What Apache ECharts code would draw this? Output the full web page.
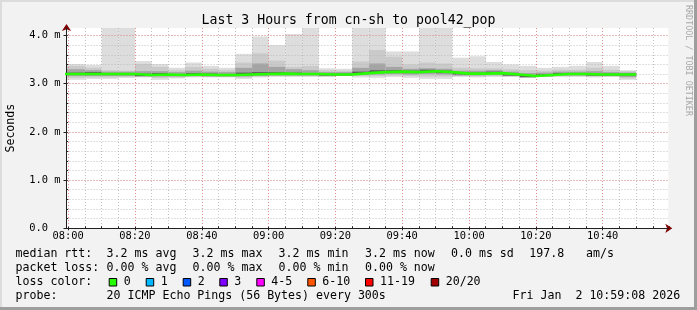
<!DOCTYPE html>
<html><head><meta charset="utf-8">
<script src="https://cdn.jsdelivr.net/npm/echarts@6/dist/echarts.min.js"></script>
<style>html,body{margin:0;padding:0;background:#f2f2f2;}#c{width:697px;height:310px;}</style>
</head><body><div id="c"></div>
<script>
// ---- data (5-minute buckets, start times) ----
const times = ['07:55','08:00','08:05','08:10','08:15','08:20','08:25','08:30','08:35','08:40','08:45','08:50',
  '08:55','09:00','09:05','09:10','09:15','09:20','09:25','09:30','09:35','09:40','09:45','09:50','09:55',
  '10:00','10:05','10:10','10:15','10:20','10:25','10:30','10:35','10:40','10:45'];
// ms values
const maxRtt = [3.41,3.41,3.39,4.30,4.30,3.47,3.41,3.33,3.44,3.37,3.33,3.62,3.98,3.80,4.03,4.30,3.32,3.31,
  4.30,4.30,3.67,3.67,4.30,4.30,3.54,3.57,3.45,3.40,3.37,3.33,3.35,3.37,3.45,3.37,3.28];
const hi2 = [3.37,3.37,3.33,3.28,3.27,3.41,3.35,3.28,3.35,3.31,3.28,3.44,3.63,3.48,3.35,3.37,3.28,3.27,
  3.46,3.70,3.56,3.40,3.44,3.42,3.33,3.32,3.32,3.30,3.28,3.27,3.29,3.29,3.33,3.29,3.26];
const hi3 = [3.30,3.30,3.28,3.25,3.25,3.26,3.26,3.24,3.27,3.25,3.24,3.33,3.42,3.35,3.30,3.28,3.24,3.24,
  3.33,3.42,3.35,3.31,3.32,3.31,3.27,3.27,3.28,3.25,3.22,3.23,3.25,3.25,3.26,3.24,3.23];
const hi4 = [3.23,3.23,3.24,3.22,3.22,3.21,3.22,3.20,3.22,3.21,3.20,3.23,3.24,3.24,3.23,3.22,3.21,3.21,
  3.25,3.28,3.28,3.27,3.29,3.27,3.23,3.23,3.25,3.21,3.18,3.20,3.22,3.22,3.21,3.21,3.21];
const medianRtt = [3.20,3.20,3.20,3.20,3.20,3.18,3.19,3.18,3.19,3.18,3.18,3.19,3.20,3.21,3.20,3.20,3.19,3.19,
  3.22,3.24,3.25,3.24,3.26,3.24,3.21,3.21,3.22,3.19,3.16,3.18,3.20,3.20,3.19,3.19,3.19];
const lo4 = [3.18,3.18,3.18,3.18,3.18,3.16,3.17,3.16,3.17,3.16,3.16,3.17,3.18,3.19,3.18,3.18,3.17,3.17,
  3.20,3.22,3.23,3.22,3.24,3.22,3.19,3.19,3.20,3.17,3.14,3.16,3.18,3.18,3.17,3.17,3.17];
const lo3 = [3.16,3.16,3.16,3.16,3.16,3.15,3.15,3.15,3.16,3.15,3.15,3.15,3.16,3.17,3.17,3.17,3.16,3.17,
  3.18,3.19,3.20,3.19,3.20,3.19,3.17,3.17,3.18,3.16,3.13,3.15,3.17,3.17,3.16,3.16,3.14];
const lo2 = [3.12,3.12,3.13,3.13,3.14,3.14,3.12,3.13,3.14,3.14,3.14,3.13,3.15,3.16,3.16,3.16,3.15,3.16,
  3.16,3.16,3.17,3.16,3.15,3.15,3.16,3.15,3.16,3.15,3.12,3.15,3.16,3.16,3.15,3.15,3.11];
const minRtt = [3.08,3.08,3.10,3.10,3.12,3.13,3.08,3.11,3.13,3.13,3.13,3.10,3.13,3.14,3.14,3.14,3.14,3.16,
  3.13,3.12,3.14,3.12,3.10,3.10,3.14,3.13,3.14,3.14,3.12,3.14,3.14,3.14,3.13,3.14,3.08];
const yTicks = [0, 1, 2, 3, 4];
const xTickLabels = ['08:00','08:20','08:40','09:00','09:20','09:40','10:00','10:20','10:40'];

const titleText = 'Last 3 Hours from cn-sh to pool42_pop';
const rttStats = ['3.2 ms avg','3.2 ms max','3.2 ms min','3.2 ms now','0.0 ms sd','197.8','am/s'];
const lossStats = ['0.00 % avg','0.00 % max','0.00 % min','0.00 % now'];
const lossLabels = ['0','1','2','3','4-5','6-10','11-19','20/20'];
const lossColors = ['#26ff00','#00b8ff','#0059ff','#7e00ff','#ff00ff','#ff5500','#ff0000','#a00000'];
const probeText = '20 ICMP Echo Pings (56 Bytes) every 300s';
const dateText = 'Fri Jan  2 10:59:08 2026';

// ---- build ----
const STEP = 5;
const toMin = s => { const [h, m] = s.split(':').map(Number); return (h - 8) * 60 + m; };
const starts = times.map(toMin);
function band(lo, hi) { return starts.map((t, i) => [t, t + STEP, lo[i], hi[i]]); }
const MONO = '"DejaVu Sans Mono", monospace';
const YMAX = 4.156;
const XMIN = -0.5, XMAX = 179.6;

function smokeSeries(data, color) {
  return {
    type: 'custom', xAxisIndex: 0, yAxisIndex: 0, z: 1, silent: true,
    data: data,
    encode: { x: [0, 1], y: [2, 3] },
    renderItem: function (params, api) {
      const p1 = api.coord([api.value(0), api.value(3)]);
      const p2 = api.coord([api.value(1), api.value(2)]);
      const cs = params.coordSys;
      const r = echarts.graphic.clipRectByRect(
        { x: p1[0], y: p1[1], width: p2[0] - p1[0], height: p2[1] - p1[1] },
        { x: cs.x, y: cs.y, width: cs.width, height: cs.height });
      if (!r) return null;
      return { type: 'rect', shape: r, style: { fill: color } };
    }
  };
}

const medLine = starts.map((t, i) => [t, medianRtt[i]]);
medLine.push([starts[starts.length - 1] + STEP, medianRtt[medianRtt.length - 1]]);

const gridTop = 28, gridH = 200.3;
const minorCol = 'rgba(180,180,180,0.8)';
const majorCol = 'rgba(240,120,120,0.7)';

const graphics = [];
// frame
graphics.push({ type: 'rect', shape: { x: 0, y: 0, width: 697, height: 2 }, style: { fill: '#dcdcdc' }, silent: true });
graphics.push({ type: 'rect', shape: { x: 0, y: 0, width: 2, height: 310 }, style: { fill: '#dcdcdc' }, silent: true });
graphics.push({ type: 'rect', shape: { x: 0, y: 307, width: 697, height: 3 }, style: { fill: '#9e9e9e' }, silent: true });
graphics.push({ type: 'rect', shape: { x: 694, y: 0, width: 3, height: 310 }, style: { fill: '#9e9e9e' }, silent: true });
// watermark
graphics.push({ type: 'text', x: 688.5, y: 5, rotation: -Math.PI / 2,
  style: { text: 'RRDTOOL / TOBI OETIKER', font: '8.4px ' + MONO, fill: '#a8a8a8',
    align: 'left', verticalAlign: 'middle', textAlign: 'left', textVerticalAlign: 'middle' } });

function txt(x, y, s) {
  graphics.push({ type: 'text', x: x, y: y,
    style: { text: s, font: '11.6px ' + MONO, fill: '#000',
      align: 'left', verticalAlign: 'middle', textAlign: 'left', textVerticalAlign: 'middle' } });
}
const rowY = [254.3, 268.3, 282.3, 296.3];
const statX = [106.6, 192.6, 278.6, 365, 451, 529.3, 586];
txt(15.5, rowY[0], 'median rtt:');
rttStats.forEach((s, i) => txt(statX[i], rowY[0], s));
txt(15.5, rowY[1], 'packet loss:');
lossStats.forEach((s, i) => txt(statX[i], rowY[1], s));
txt(15.5, rowY[2], 'loss color:');
const boxX = [108.7, 145.7, 182.7, 219.3, 256.3, 307.3, 365, 430.7];
lossLabels.forEach((s, i) => {
  graphics.push({ type: 'rect', shape: { x: boxX[i] + 0.5, y: 278.5, width: 7.5, height: 7.5 },
    style: { fill: lossColors[i], stroke: '#000', lineWidth: 1 } });
  txt(boxX[i] + 15, rowY[2], s);
});
txt(15.5, rowY[3], 'probe:');
txt(106.6, rowY[3], probeText);
txt(512.6, rowY[3], dateText);

const option = {
  animation: false,
  backgroundColor: '#f2f2f2',
  title: { text: titleText, left: 'center', top: 9,
    textStyle: { fontFamily: MONO, fontSize: 13.2, fontWeight: 'normal', color: '#000' } },
  grid: [
    { left: 66.5, top: gridTop, width: 601.8, height: gridH, show: true, backgroundColor: '#ffffff', borderWidth: 0,
      containLabel: false, outerBoundsMode: 'none' },
    { left: 68.17, top: gridTop, width: 601.3, height: gridH, show: false, containLabel: false, outerBoundsMode: 'none' }
  ],
  xAxis: [
    { type: 'value', gridIndex: 0, min: XMIN, max: XMAX, position: 'bottom', z: 6,
      axisLine: { show: true, onZero: false, lineStyle: { color: '#202020', width: 1 } },
      axisTick: { show: false }, axisLabel: { show: false }, splitLine: { show: false } },
    { type: 'value', gridIndex: 0, min: XMIN, max: XMAX, position: 'bottom', z: 5,
      axisLine: { show: true, onZero: false, symbol: ['none', 'arrow'], symbolSize: [7, 7], symbolOffset: [0, 4],
        lineStyle: { color: '#800000', width: 1 } },
      axisTick: { show: false }, axisLabel: { show: false }, splitLine: { show: false } },
    { type: 'value', gridIndex: 1, min: 0, max: 180, interval: 5, position: 'bottom', z: 3,
      axisLine: { show: false, onZero: false },
      axisTick: { show: true, inside: true, length: 2, lineStyle: { color: '#202020' } },
      axisLabel: { show: false },
      splitLine: { show: true, showMaxLine: false, lineStyle: { color: minorCol, type: [1, 2], width: 1 } } },
    { type: 'value', gridIndex: 1, min: 0, max: 180, interval: 20, position: 'bottom', z: 4,
      axisLine: { show: false, onZero: false },
      axisTick: { show: true, length: 2, lineStyle: { color: '#202020' } },
      axisLabel: { show: true, showMaxLabel: false, margin: 3, color: '#000', fontFamily: MONO, fontSize: 10.4,
        formatter: v => xTickLabels[Math.round(v / 20)] || '' },
      splitLine: { show: true, showMaxLine: false, lineStyle: { color: majorCol, type: [1, 2], width: 1 } } }
  ],
  yAxis: [
    { type: 'value', gridIndex: 0, min: 0, max: YMAX, interval: 0.2, position: 'left', z: 3,
      axisLine: { show: false },
      axisTick: { show: true, length: 2, lineStyle: { color: '#202020' } },
      axisLabel: { show: false },
      splitLine: { show: true, showMaxLine: false, lineStyle: { color: minorCol, type: [1, 2], width: 1 } } },
    { type: 'value', gridIndex: 0, min: 0, max: YMAX, interval: 1, position: 'left', z: 6,
      name: 'Seconds', nameLocation: 'middle', nameRotate: 90, nameGap: 50,
      nameTextStyle: { fontFamily: MONO, fontSize: 11.6, color: '#000' },
      axisLine: { show: true, onZero: false, lineStyle: { color: '#202020', width: 1 } },
      axisTick: { show: true, length: 3, lineStyle: { color: '#202020' } },
      axisLabel: { show: true, showMaxLabel: false, margin: 6, color: '#000', fontFamily: MONO, fontSize: 10.4,
        formatter: v => (yTicks.indexOf(v) < 0 ? '' : (v === 0 ? '0.0  ' : v.toFixed(1) + ' m')) },
      splitLine: { show: true, showMaxLine: false, lineStyle: { color: majorCol, type: [1, 2], width: 1 } } },
    { type: 'value', gridIndex: 0, min: 0, max: YMAX, position: 'left', z: 5,
      axisLine: { show: true, onZero: false, symbol: ['none', 'arrow'], symbolSize: [7, 7], symbolOffset: [0, 4],
        lineStyle: { color: '#800000', width: 1 } },
      axisTick: { show: false }, axisLabel: { show: false }, splitLine: { show: false } },
    { type: 'value', gridIndex: 1, min: 0, max: YMAX, show: false }
  ],
  series: [
    smokeSeries(band(minRtt, maxRtt), '#dddddd'),
    smokeSeries(band(lo2, hi2), '#cacaca'),
    smokeSeries(band(lo3, hi3), '#a4a4a4'),
    smokeSeries(band(lo4, hi4), '#5a5a5a'),
    { type: 'line', xAxisIndex: 0, yAxisIndex: 0, z: 10, step: 'end', showSymbol: false, silent: true,
      data: medLine, lineStyle: { color: '#26ff00', width: 2.6 } }
  ],
  graphic: graphics
};
const chart = echarts.init(document.getElementById('c'), null, { renderer: 'canvas' });
chart.setOption(option);
</script></body></html>
